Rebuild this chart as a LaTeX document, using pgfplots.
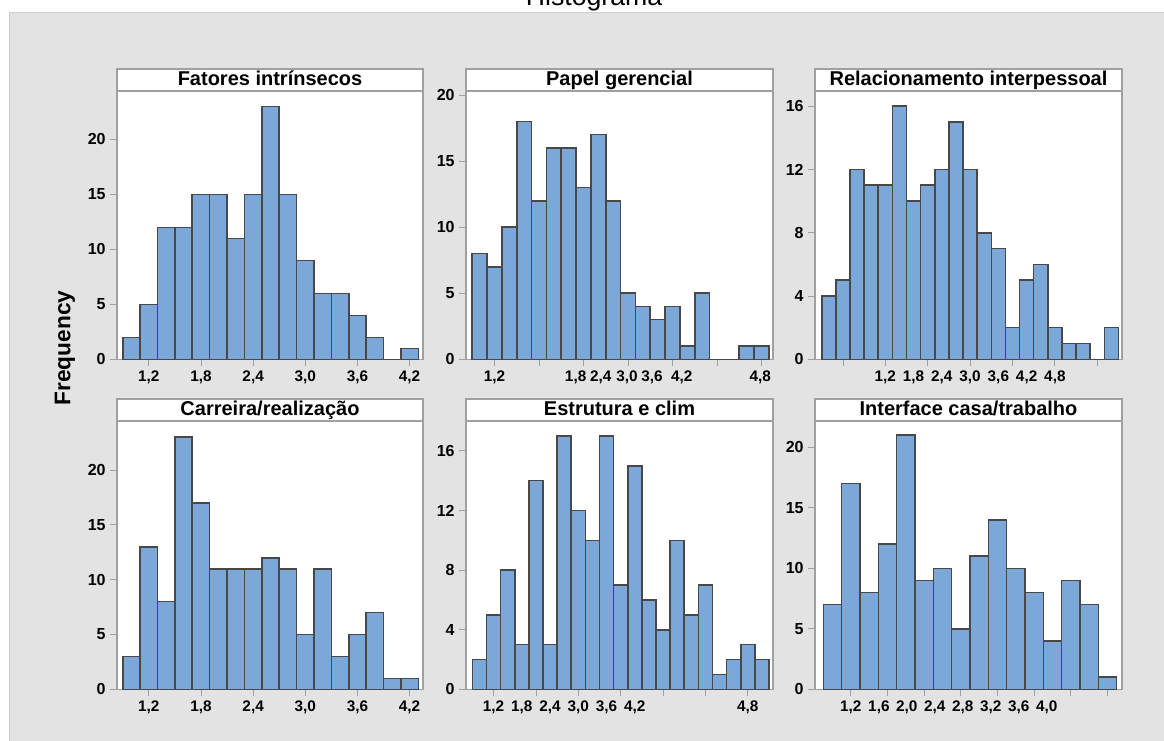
\documentclass[border=0pt]{standalone}
\usepackage{fontspec}
\setmainfont{Liberation Sans}
\usepackage{pgfplots}
\pgfplotsset{compat=1.18}
\definecolor{barfill}{RGB}{123,167,217}
\definecolor{baredge}{RGB}{72,72,72}
\definecolor{framegray}{RGB}{160,160,160}
\definecolor{bggray}{RGB}{227,227,227}
\definecolor{bgborder}{RGB}{205,205,205}
\pgfplotsset{
  panel/.style={
    scale only axis, width=229.5pt, height=201.2pt,
    anchor=south west,
    ymin=0, enlargelimits=false,
    axis background/.style={fill=white},
    axis line style={draw=framegray, line width=0.8pt},
    tick align=outside, tick pos=left,
    major tick length=5pt,
    tick style={draw=framegray, line width=0.6pt},
    xticklabel style={font=\bfseries\fontsize{11.5}{13}\selectfont, text=black},
    yticklabel style={font=\bfseries\fontsize{12}{13}\selectfont, text=black},
    ybar, bar width=1, bar shift=0,
    extra x tick style={major tick style={draw=none}},
  },
  bars/.style={fill=barfill, draw=baredge, line width=1.2pt},
}
\newcommand{\strip}[4]{%
  \draw[framegray, line width=0.8pt, fill=white] (#1,#3) rectangle (#2,#3+22);
  \node[anchor=base, font=\bfseries\fontsize{15}{17}\selectfont] at ({(#1+#2)/2},#3+16.5) {#4};
}
\begin{document}
\begin{tikzpicture}
\begin{scope}[x=0.75pt, y=-0.75pt]
  \path[use as bounding box] (0,0) rectangle (1164,740);
  \fill[bggray] (9.3,12.3) rectangle (1170,745);
  \draw[bgborder, line width=1pt] (9.3,745) -- (9.3,12.3) -- (1170,12.3);
  \node[anchor=base, font=\fontsize{20}{24}\selectfont] at (594,5) {Histograma};
  \strip{117}{423}{69}{Fatores intrínsecos}
  \strip{466}{773}{69}{Papel gerencial}
  \strip{815}{1122}{69}{Relacionamento interpessoal}
  \strip{117}{423}{399}{Carreira/realização}
  \strip{466}{773}{399}{Estrutura e clim}
  \strip{815}{1122}{399}{Interface casa/trabalho}
  \node[rotate=90, font=\bfseries\fontsize{17}{20}\selectfont] at (65,348) {Frequency};
\end{scope}

% Panel 1: Fatores intrinsecos
\begin{axis}[panel, at={(87.75pt,-269.5pt)}, xmin=0.17, xmax=17.77, ymax=24.4,
  ytick={0,5,10,15,20}, yticklabels={0,5,10,15,20},
  xtick={2,5,8,11,14,17}, xticklabels={{1,2},{1,8},{2,4},{3,0},{3,6},{4,2}}]
\addplot[bars] coordinates {(1,2)(2,5)(3,12)(4,12)(5,15)(6,15)(7,11)(8,15)(9,23)(10,15)(11,9)(12,6)(13,6)(14,4)(15,2)(16,0)(17,1)};
\end{axis}

% Panel 2: Papel gerencial
\begin{axis}[panel, at={(349.5pt,-269.5pt)}, width=230.25pt, xmin=0.076, xmax=20.78, ymax=20.3,
  ytick={0,5,10,15,20}, yticklabels={0,5,10,15,20},
  xtick={2,5,8,11,14,17,20}, xticklabel={\mbox{}},
  extra x ticks={2,7.47,9.16,10.93,12.62,14.62,19.92},
  extra x tick labels={{1,2},{1,8},{2,4},{3,0},{3,6},{4,2},{4,8}}]
\addplot[bars] coordinates {(1,8)(2,7)(3,10)(4,18)(5,12)(6,16)(7,16)(8,13)(9,17)(10,12)(11,5)(12,4)(13,3)(14,4)(15,1)(16,5)(17,0)(18,0)(19,1)(20,1)};
\end{axis}

% Panel 3: Relacionamento interpessoal
\begin{axis}[panel, at={(611.25pt,-269.5pt)}, width=230.25pt, xmin=0.023, xmax=21.75, ymax=16.95,
  ytick={0,4,8,12,16}, yticklabels={0,4,8,12,16},
  xtick={2,5,8,11,14,17,20}, xticklabel={\mbox{}},
  extra x ticks={5,7,9,11,13,15,17},
  extra x tick labels={{1,2},{1,8},{2,4},{3,0},{3,6},{4,2},{4,8}}]
\addplot[bars] coordinates {(1,4)(2,5)(3,12)(4,11)(5,11)(6,16)(7,10)(8,11)(9,12)(10,15)(11,12)(12,8)(13,7)(14,2)(15,5)(16,6)(17,2)(18,1)(19,1)(20,0)(21,2)};
\end{axis}

% Panel 4: Carreira/realizacao
\begin{axis}[panel, at={(87.75pt,-517pt)}, xmin=0.17, xmax=17.77, ymax=24.47,
  ytick={0,5,10,15,20}, yticklabels={0,5,10,15,20},
  xtick={2,5,8,11,14,17}, xticklabels={{1,2},{1,8},{2,4},{3,0},{3,6},{4,2}}]
\addplot[bars] coordinates {(1,3)(2,13)(3,8)(4,23)(5,17)(6,11)(7,11)(8,11)(9,12)(10,11)(11,5)(12,11)(13,3)(14,5)(15,7)(16,1)(17,1)};
\end{axis}

% Panel 5: Estrutura e clim
\begin{axis}[panel, at={(349.5pt,-517pt)}, width=230.25pt, xmin=0.05, xmax=21.78, ymax=18.0,
  ytick={0,4,8,12,16}, yticklabels={0,4,8,12,16},
  xtick={2,5,8,11,14,17,20}, xticklabel={\mbox{}},
  extra x ticks={2,4,6,8,10,12,20},
  extra x tick labels={{1,2},{1,8},{2,4},{3,0},{3,6},{4,2},{4,8}}]
\addplot[bars] coordinates {(1,2)(2,5)(3,8)(4,3)(5,14)(6,3)(7,17)(8,12)(9,10)(10,17)(11,7)(12,15)(13,6)(14,4)(15,10)(16,5)(17,7)(18,1)(19,2)(20,3)(21,2)};
\end{axis}

% Panel 6: Interface casa/trabalho
\begin{axis}[panel, at={(611.25pt,-517pt)}, width=230.25pt, xmin=0.045, xmax=16.79, ymax=22.17,
  ytick={0,5,10,15,20}, yticklabels={0,5,10,15,20},
  xtick={2,4,6,8,10,12,14,16}, xticklabel={\mbox{}},
  extra x ticks={2,3.53,5.05,6.58,8.1,9.63,11.16,12.68},
  extra x tick labels={{1,2},{1,6},{2,0},{2,4},{2,8},{3,2},{3,6},{4,0}}]
\addplot[bars] coordinates {(1,7)(2,17)(3,8)(4,12)(5,21)(6,9)(7,10)(8,5)(9,11)(10,14)(11,10)(12,8)(13,4)(14,9)(15,7)(16,1)};
\end{axis}
\end{tikzpicture}
\end{document}
